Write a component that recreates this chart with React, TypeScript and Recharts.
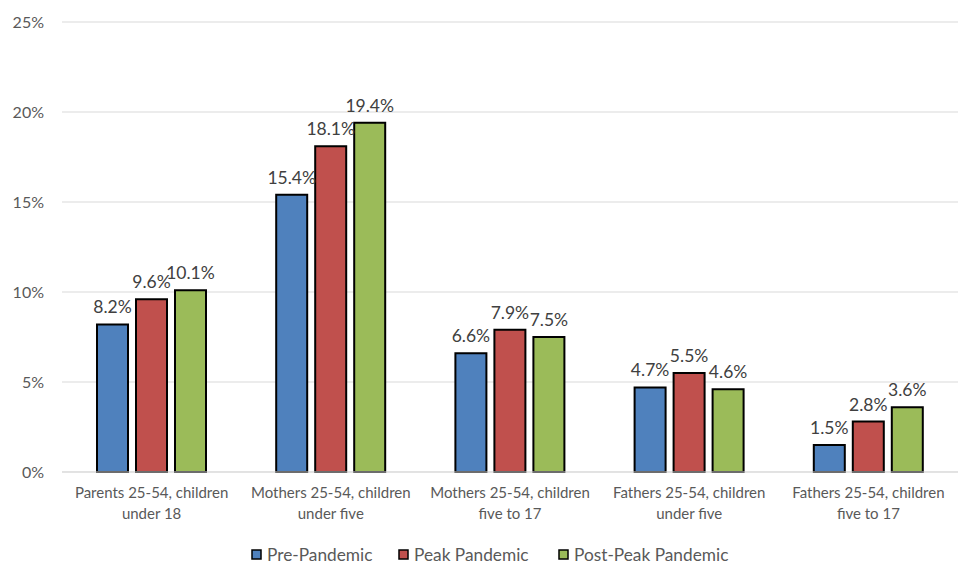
import React from "react";
import { BarChart, Bar, XAxis, YAxis, CartesianGrid, LabelList } from "recharts";

const categories = [
  ["Parents 25-54, children", "under 18"],
  ["Mothers 25-54, children", "under five"],
  ["Mothers 25-54, children", "five to 17"],
  ["Fathers 25-54, children", "under five"],
  ["Fathers 25-54, children", "five to 17"],
];
const prePandemic = [8.2, 15.4, 6.6, 4.7, 1.5];
const peakPandemic = [9.6, 18.1, 7.9, 5.5, 2.8];
const postPeakPandemic = [10.1, 19.4, 7.5, 4.6, 3.6];
const yTicks = [0, 5, 10, 15, 20, 25];

const seriesInfo = [
  { key: "pre", name: "Pre-Pandemic", color: "#4F81BD" },
  { key: "peak", name: "Peak Pandemic", color: "#C0504D" },
  { key: "post", name: "Post-Peak Pandemic", color: "#9BBB59" },
];

const data = categories.map((c, i) => ({
  name: c.join("|"),
  pre: prePandemic[i],
  peak: peakPandemic[i],
  post: postPeakPandemic[i],
}));

const FONT = "Lato, 'Open Sans', sans-serif";

const XTick = (props: any) => {
  const { x, y, payload } = props;
  const lines = String(payload.value).split("|");
  return (
    <text x={x} y={y} textAnchor="middle" fill="#595959" fontSize={15} fontFamily={FONT}>
      {lines.map((l, i) => (
        <tspan key={i} x={x} dy={i === 0 ? 18 : 21}>
          {l}
        </tspan>
      ))}
    </text>
  );
};

const LegendBox = () => {
  const xs = [252, 399, 559];
  return (
    <svg width={974} height={30} style={{ position: "absolute", left: 0, top: 541 }}>
      {seriesInfo.map((s, i) => (
        <g key={s.key}>
          <rect x={xs[i]} y={9} width={9} height={9} fill={s.color} stroke="#000" strokeWidth={1.5} />
          <text x={xs[i] + 15} y={20} fontSize={17.3} fill="#595959" fontFamily={FONT}>
            {s.name}
          </text>
        </g>
      ))}
    </svg>
  );
};

export default function App() {
  return (
    <div style={{ position: "absolute", left: 0, top: 0, width: 974, height: 585, background: "#fff" }}>
      <div style={{ position: "absolute", left: 0, top: 0 }}>
        <BarChart
          width={974}
          height={585}
          data={data}
          margin={{ top: 22, right: 16, left: 0, bottom: 63 }}
          barGap={8}
          barSize={31}
        >
          <CartesianGrid vertical={false} stroke="#D9D9D9" strokeWidth={1} />
          <XAxis
            dataKey="name"
            tick={<XTick />}
            tickLine={false}
            axisLine={{ stroke: "#D9D9D9" }}
            interval={0}
            height={50}
          />
          <YAxis
            width={62}
            domain={[0, 25]}
            ticks={yTicks}
            tickFormatter={(v) => `${v}%`}
            tick={{ fill: "#595959", fontSize: 16, fontFamily: FONT }}
            tickLine={false}
            axisLine={false}
            tickMargin={12}
          />
          {seriesInfo.map((s) => (
            <Bar
              key={s.key}
              dataKey={s.key}
              name={s.name}
              fill={s.color}
              stroke="#000"
              strokeWidth={2}
              isAnimationActive={false}
            >
              <LabelList
                dataKey={s.key}
                position="top"
                offset={11}
                formatter={(v: any) => `${Number(v).toFixed(1)}%`}
                style={{ fill: "#404040", fontSize: 17.5, fontFamily: FONT }}
              />
            </Bar>
          ))}
        </BarChart>
      </div>
      <LegendBox />
    </div>
  );
}
